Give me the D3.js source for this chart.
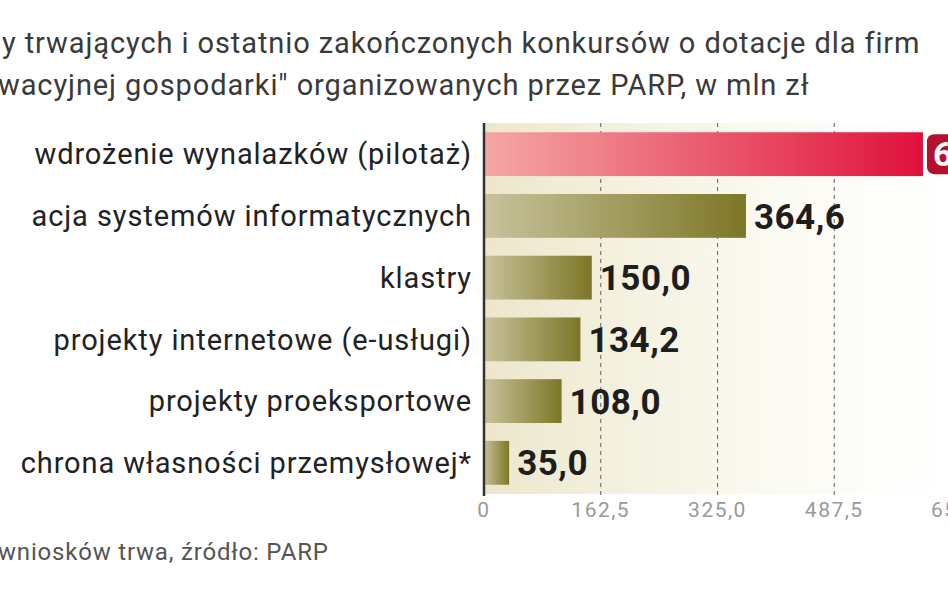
<!DOCTYPE html><html><head><meta charset="utf-8">
<script src="https://cdn.jsdelivr.net/npm/d3@7"></script>
<style>body{margin:0;background:#fff;overflow:hidden}</style></head><body>
<svg id="c" width="948" height="593"></svg>
<script>
const categories=["wdrożenie wynalazków (pilotaż)","acja systemów informatycznych","klastry","projekty internetowe (e-usługi)","projekty proeksportowe","chrona własności przemysłowej*"];
const values=[611.0,364.6,150.0,134.2,108.0,35.0];
const valueLabels=["611,0","364,6","150,0","134,2","108,0","35,0"];
const ticks=[0,162.5,325,487.5,650];
const tickLabels=["0","162,5","325,0","487,5","650"];
const titleLines=["y trwających i ostatnio zakończonych konkursów o dotacje dla firm","wacyjnej gospodarki\" organizowanych przez PARP, w mln zł"];
const footnote="wniosków trwa, źródło: PARP";

const svg=d3.select("#c");
const x=d3.scaleLinear().domain([0,650]).range([484,951]);
const y=d3.scaleBand().domain(categories).range([123,494]).paddingInner(0.29).paddingOuter(0.15);
const defs=svg.append("defs");
const bg=defs.append("linearGradient").attr("id","bg");
bg.append("stop").attr("offset","0").attr("stop-color","#ece7cc");
bg.append("stop").attr("offset","0.6").attr("stop-color","#fbfaf1");
bg.append("stop").attr("offset","1").attr("stop-color","#ffffff");
const g1=defs.append("linearGradient").attr("id","red");
g1.append("stop").attr("offset","0").attr("stop-color","#f4a7a4");
g1.append("stop").attr("offset","1").attr("stop-color","#e0113c");
const g2=defs.append("linearGradient").attr("id","olive");
g2.append("stop").attr("offset","0").attr("stop-color","#c9c29c");
g2.append("stop").attr("offset","1").attr("stop-color","#7c7726");

svg.append("rect").attr("x",x(0)).attr("y",123).attr("width",x(650)-x(0)).attr("height",494-123).attr("fill","url(#bg)");
svg.selectAll(".grid").data(ticks.slice(1)).join("line")
 .attr("x1",d=>x(d)).attr("x2",d=>x(d)).attr("y1",123).attr("y2",496)
 .attr("stroke","#777").attr("stroke-dasharray","4,4").attr("stroke-width",1.2);
svg.selectAll(".bar").data(values).join("rect")
 .attr("x",x(0)).attr("y",(d,i)=>y(categories[i])).attr("width",d=>x(d)-x(0)).attr("height",y.bandwidth())
 .attr("fill",(d,i)=>i===0?"url(#red)":"url(#olive)");
svg.append("line").attr("x1",x(0)).attr("x2",x(0)).attr("y1",123).attr("y2",496).attr("stroke","#333").attr("stroke-width",2.5);
svg.selectAll(".cat").data(categories).join("text")
 .attr("x",472).attr("y",d=>y(d)+y.bandwidth()/2).attr("dy","0.35em").attr("text-anchor","end")
 .attr("font-family","Roboto, sans-serif").attr("font-size",29).attr("letter-spacing",0.9).attr("fill","#222").text(d=>d);
values.forEach((v,i)=>{
 const cy=y(categories[i])+y.bandwidth()/2;
 if(i===0){
  svg.append("rect").attr("x",x(v)+4).attr("y",cy-20).attr("width",80).attr("height",40).attr("rx",7).attr("fill","#b5102e");
  svg.append("text").attr("x",x(v)+10).attr("y",cy).attr("dy","0.36em").attr("font-family","Roboto,sans-serif").attr("font-weight","bold").attr("font-size",34).attr("fill","#fff").text(valueLabels[i]);
 } else {
  svg.append("text").attr("x",x(v)+8).attr("y",cy).attr("dy","0.36em").attr("font-family","Roboto,sans-serif").attr("font-weight","bold").attr("font-size",35).attr("letter-spacing",0.5).attr("fill","#1e1e1e").text(valueLabels[i]);
 }
});
svg.selectAll(".tick").data(ticks).join("text")
 .attr("x",d=>x(d)).attr("y",517).attr("text-anchor","middle")
 .attr("font-family","Roboto, sans-serif").attr("font-size",21).attr("letter-spacing",1.5).attr("fill","#999").text((d,i)=>tickLabels[i]);
svg.selectAll(".title").data(titleLines).join("text")
 .attr("x",(d,i)=>i===0?2:-2).attr("y",(d,i)=>53+i*42)
 .attr("font-family","Roboto, sans-serif").attr("font-size",29).attr("letter-spacing",0.9).attr("fill","#3a3a3a").text(d=>d);
svg.append("text").attr("x",-2).attr("y",560).attr("font-family","Roboto, sans-serif").attr("font-size",24).attr("letter-spacing",0.8).attr("fill","#555").text(footnote);
</script></body></html>
